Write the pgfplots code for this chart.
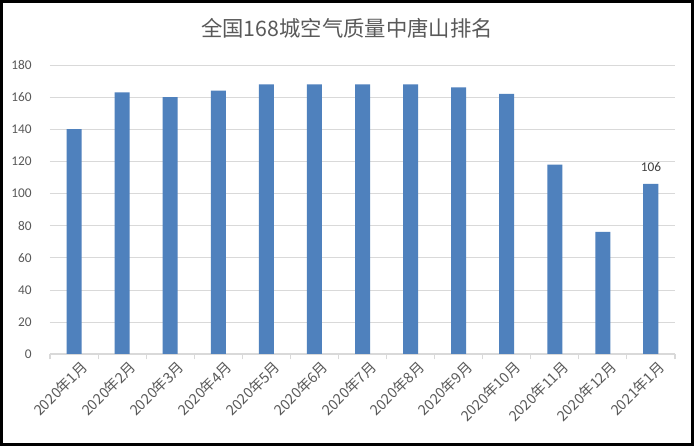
\documentclass[border=0pt]{standalone}
\usepackage{pgfplots}
\pgfplotsset{compat=1.18}
\usepackage{fontspec}
\setmainfont{Carlito}
\newfontfamily\cjk{Noto Sans CJK SC}
\definecolor{barblue}{RGB}{79,129,189}
\definecolor{txtgray}{RGB}{89,89,89}
\definecolor{gridgray}{RGB}{217,217,217}
\begin{document}
\begin{tikzpicture}[x=1pt,y=1pt]
\useasboundingbox (0,0) rectangle (520.5,334.5);
\fill[white] (0,0) rectangle (520.5,334.5);
\draw[line width=2pt] (1,1) rectangle (519.5,333.5);
\node[txtgray,font=\cjk\fontsize{16}{18}\selectfont] at (260.25,313.5) {全国168城空气质量中唐山排名};
\begin{axis}[
  at={(37.5pt,69pt)}, anchor=south west,
  scale only axis, width=468.75pt, height=216.75pt,
  xmin=-0.5, xmax=12.5, ymin=0, ymax=180,
  ytick={0,20,...,180},
  xtick={0,...,12},
  xticklabels={2020年1月,2020年2月,2020年3月,2020年4月,2020年5月,2020年6月,2020年7月,2020年8月,2020年9月,2020年10月,2020年11月,2020年12月,2021年1月},
  minor xtick={-0.5,0.5,...,12.5},
  major x tick style={draw=none},
  minor x tick style={gridgray, thick},
  minor tick length=4pt,
  tick align=outside,
  ymajorgrids, grid style={gridgray, thin},
  axis x line*=bottom,
  axis y line*=left,
  x axis line style={gridgray, thick, -},
  y axis line style={draw=none},
  ytick style={draw=none},
  xticklabel style={font=\cjk\fontsize{10.8}{12}\selectfont, txtgray, rotate=45, anchor=north east, inner sep=1pt, xshift=4.5pt, yshift=-2pt},
  yticklabel style={font=\fontsize{10}{11}\selectfont, txtgray, xshift=-6pt},
  /pgf/number format/assume math mode=true,
  ybar, bar width=11.25pt, bar shift=0pt,
  clip=false,
]
\addplot[fill=barblue, draw=none] coordinates {
(0,140) (1,163) (2,160) (3,164) (4,168) (5,168) (6,168) (7,168) (8,166) (9,162) (10,118) (11,76) (12,106)
};
\addplot[fill=barblue, draw=none, nodes near coords,
  every node near coord/.append style={font=\fontsize{10}{11}\selectfont, black!75, yshift=6pt}] coordinates {
(12,106)
};
\end{axis}
\end{tikzpicture}
\end{document}
